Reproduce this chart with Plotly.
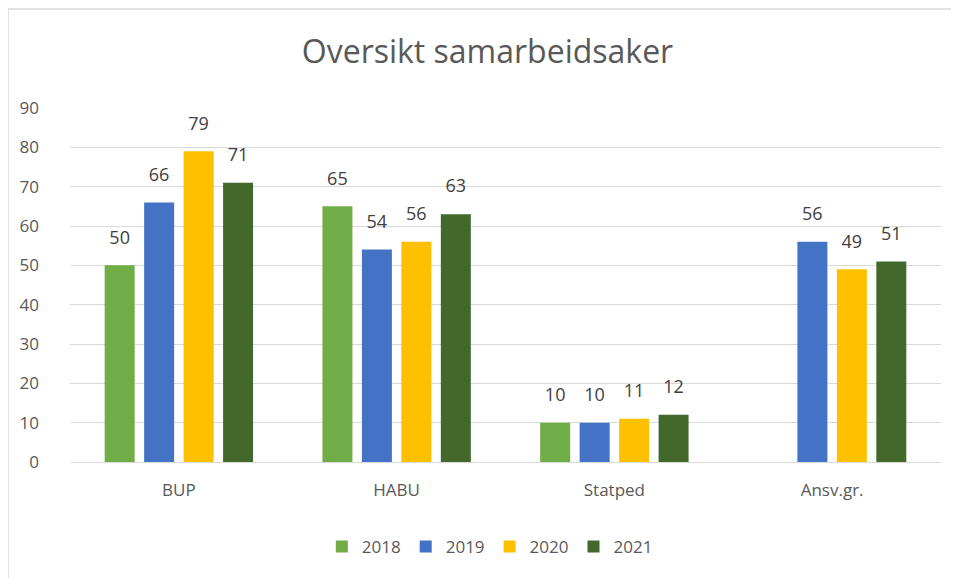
import plotly.graph_objects as go

categories = ["BUP", "HABU", "Statped", "Ansv.gr."]
years = ["2018", "2019", "2020", "2021"]
v2018 = [50, 65, 10, None]
v2019 = [66, 54, 10, 56]
v2020 = [79, 56, 11, 49]
v2021 = [71, 63, 12, 51]
colors = ["#70AD47", "#4472C4", "#FFC000", "#43682B"]

series = [v2018, v2019, v2020, v2021]
FONT = "Open Sans, Liberation Sans, sans-serif"
TITLE_FONT = "Liberation Sans Narrow, Open Sans, sans-serif"

fig = go.Figure()
for i, (name, vals, col) in enumerate(zip(years, series, colors)):
    fig.add_trace(go.Bar(
        x=categories, y=vals, name=name, offsetgroup=str(i),
        marker=dict(color=col, line=dict(width=0)),
        hoverinfo="skip",
    ))
for i, (name, vals) in enumerate(zip(years, series)):
    fig.add_trace(go.Scatter(
        x=categories, y=vals, name=name, offsetgroup=str(i),
        mode="markers+text", showlegend=False,
        marker=dict(size=26, color="rgba(0,0,0,0)"),
        text=[("" if v is None else str(v)) for v in vals],
        textposition="top center",
        textfont=dict(family=FONT, size=18, color="#404040"),
        cliponaxis=False, hoverinfo="skip",
    ))

fig.update_layout(
    width=959, height=578,
    margin=dict(l=62, r=26, t=100, b=124),
    paper_bgcolor="white", plot_bgcolor="white",
    barmode="group", bargap=0.275, bargroupgap=0.24,
    scattermode="group", scattergap=0.275,
    title=dict(text="Oversikt samarbeidsaker", x=0.5, xanchor="center",
               y=1 - 44 / 578, yanchor="middle",
               font=dict(family=TITLE_FONT, size=32, color="#595959")),
    legend=dict(orientation="h", x=0.482, xanchor="center", y=-0.24, yanchor="middle",
                font=dict(family=FONT, size=17, color="#595959"),
                itemwidth=30, traceorder="normal"),
    yaxis=dict(range=[0, 90], dtick=10, showgrid=True, gridcolor="#D9D9D9",
               gridwidth=1, zeroline=False, showline=False, automargin=False,
               tickfont=dict(family=FONT, size=17, color="#595959"),
               ticks="", ticklabelstandoff=30),
    xaxis=dict(showline=True, linecolor="#D9D9D9", linewidth=1, ticks="",
               ticklabelstandoff=13,
               tickfont=dict(family=FONT, size=17, color="#595959")),
    shapes=[dict(type="rect", xref="paper", yref="paper",
                 x0=-62 / 871, x1=1.2, y0=-0.5, y1=(454 - 1) / 354,
                 line=dict(color="#D9D9D9", width=1.5), fillcolor="rgba(0,0,0,0)",
                 layer="below")],
)

fig.write_html("out.html")
